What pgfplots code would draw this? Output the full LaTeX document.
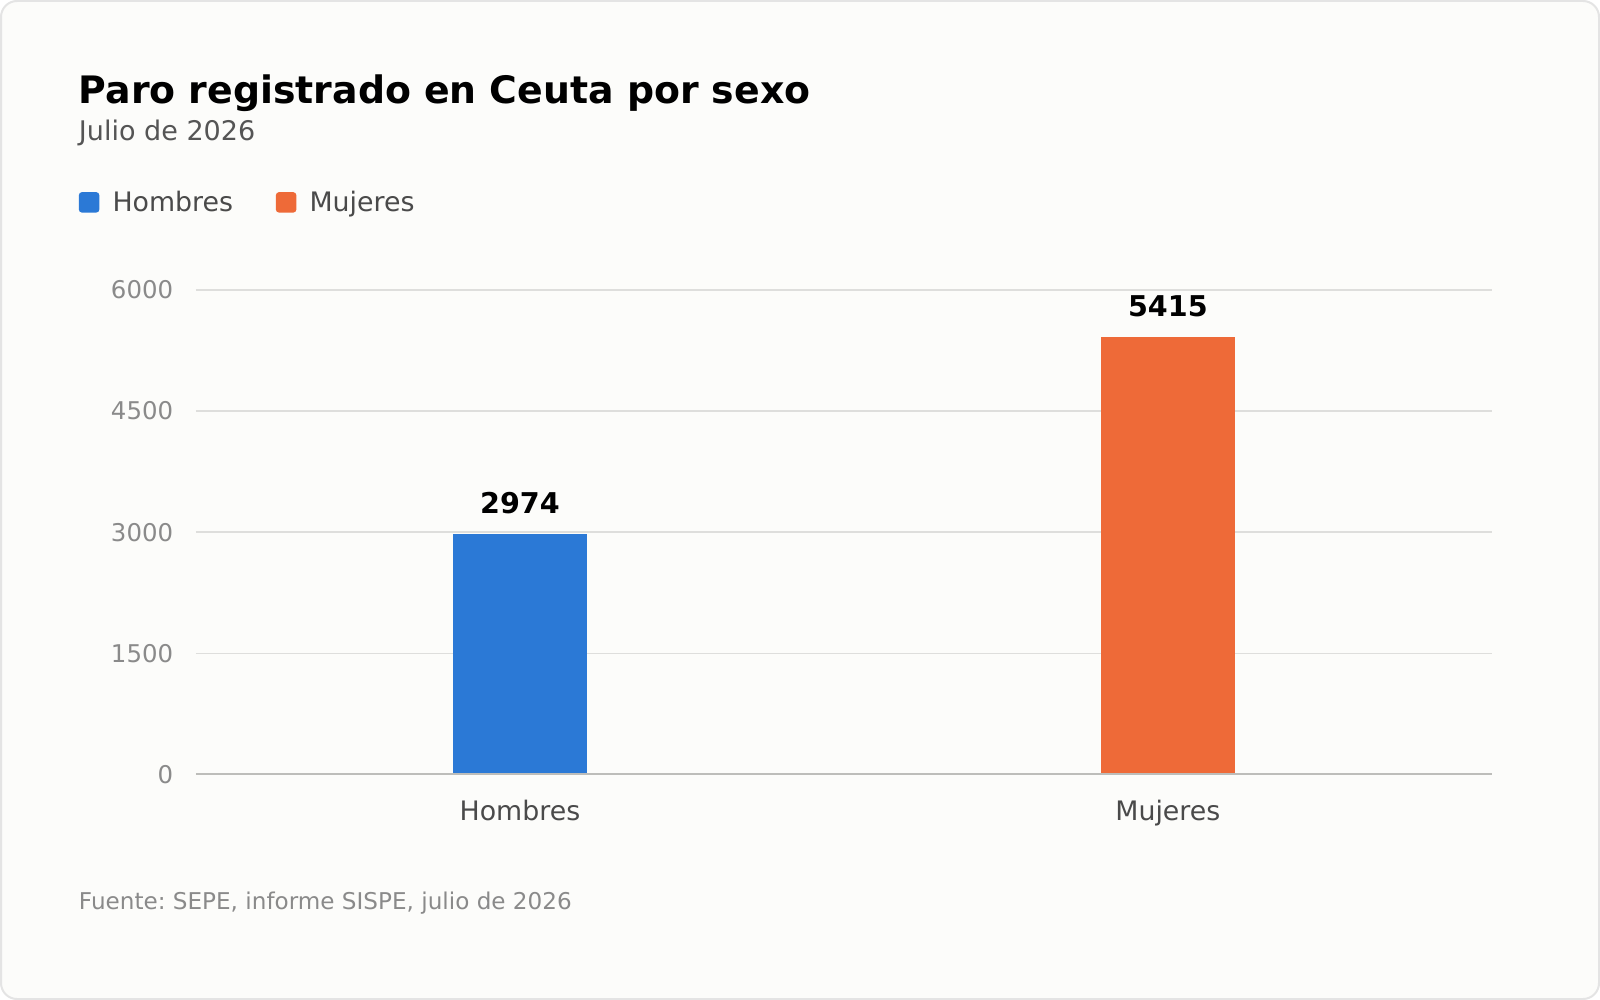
\documentclass[border=0pt]{standalone}
\usepackage{fontspec}
\setmainfont{DejaVu Sans}
\usepackage{pgfplots}
\pgfplotsset{compat=1.18}
\definecolor{cblue}{HTML}{2B79D6}
\definecolor{corange}{HTML}{EE6A38}
\definecolor{bgc}{HTML}{FCFCFA}
\definecolor{borderc}{HTML}{E4E4E4}
\definecolor{gridc}{HTML}{DEDEDC}
\definecolor{axisc}{HTML}{BDBDBA}
\definecolor{tickc}{HTML}{8A8A8A}
\definecolor{xlabc}{HTML}{4A4A4A}
\definecolor{subc}{HTML}{555555}
\definecolor{footc}{HTML}{8A8A8A}
\pgfplotsset{/pgf/number format/1000 sep={}, /pgf/number format/assume math mode=true}
\frenchspacing
\begin{document}
\frenchspacing
\begin{tikzpicture}
\useasboundingbox (0,0) rectangle (799.68pt,-499.8pt);
\draw[borderc, line width=1pt, rounded corners=8pt, fill=bgc] (0.5pt,-0.5pt) rectangle (799.18pt,-499.3pt);
\node[anchor=base west, inner sep=0pt, font=\fontsize{18.9}{22}\selectfont\bfseries, text=black] at ({77*0.51pt},{-101*0.51pt}) {Paro registrado en Ceuta por sexo};
\node[anchor=base west, inner sep=0pt, font=\fontsize{13.5}{16}\selectfont, text=subc] at ({77*0.51pt},{-138*0.51pt}) {Julio de 2026};
\node[anchor=base west, inner sep=0pt, font=\fontsize{11.55}{14}\selectfont\frenchspacing, text=footc] at ({77*0.51pt},{-891*0.51pt}) {Fuente: SEPE, informe SISPE, julio de 2026};
\begin{axis}[
  at={(97.92pt,-387.09pt)}, anchor=south west,
  width=647.7pt, height=242.25pt, scale only axis,
  xmin=-0.5, xmax=1.5, ymin=0, ymax=6000,
  ybar, bar width=66.8pt, bar shift=0pt,
  axis line style={draw=none},
  xtick={0,1}, xticklabels={Hombres,Mujeres},
  ytick={0,1500,3000,4500,6000},
  scaled y ticks=false,
  ymajorgrids, grid style={gridc, line width=0.8pt},
  major tick length=0pt,
  yticklabel style={font=\fontsize{12.2}{14}\selectfont, text=tickc, inner sep=0pt, xshift=-11.2pt},
  xticklabel style={font=\fontsize{13.4}{16}\selectfont, text=xlabc, inner sep=0pt, yshift=-12.4pt},
  clip=false,
  nodes near coords,
  every node near coord/.append style={font=\fontsize{14.3}{17}\selectfont\bfseries, text=black, anchor=base, inner sep=0pt, yshift=10.2pt},
  legend columns=2,
  legend style={at={(-0.0906,1.1816)}, anchor=west, draw=none, fill=none, inner sep=0pt,
    font=\fontsize{13.4}{16}\selectfont, text=xlabc,
    nodes={inner sep=0pt, text depth=0pt},
    /tikz/every odd column/.append style={column sep=6.6pt},
    /tikz/every even column/.append style={column sep=21.4pt}},
  legend image code/.code={\fill[#1, rounded corners=1.5pt] (0pt,-5.7pt) rectangle (10.2pt,4.5pt);},
]
\addplot[fill=cblue, draw=none] coordinates {(0,2974)};
\addlegendentry{Hombres}
\addplot[fill=corange, draw=none] coordinates {(1,5415)};
\addlegendentry{Mujeres}
\draw[axisc, line width=1pt] (axis cs:-0.5,0) -- (axis cs:1.5,0);
\end{axis}
\end{tikzpicture}
\end{document}
